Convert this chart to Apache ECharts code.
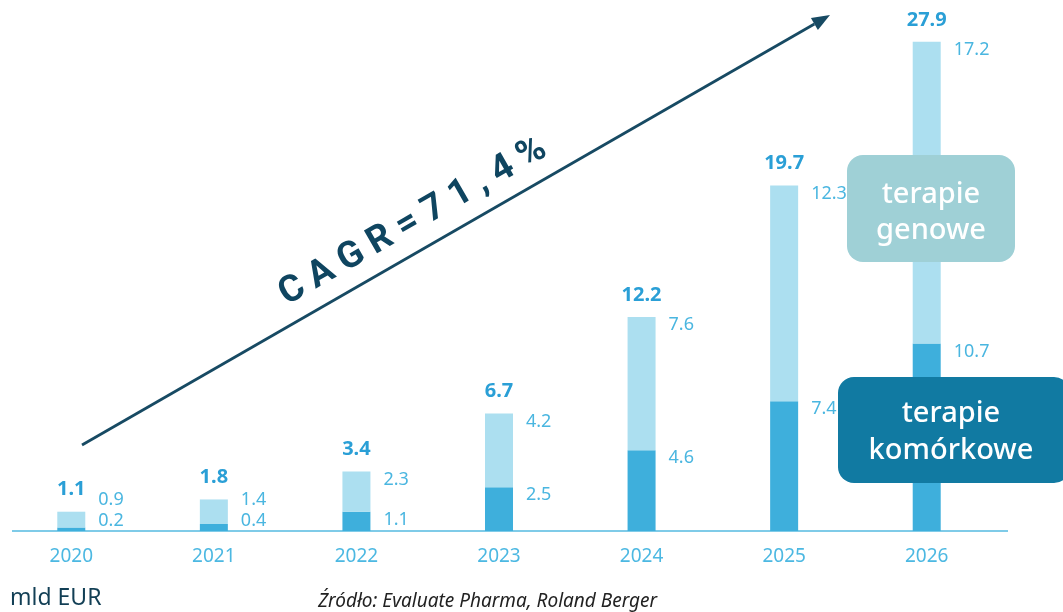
<!DOCTYPE html>
<html>
<head>
<meta charset="utf-8">
<script src="https://cdn.jsdelivr.net/npm/echarts@6/dist/echarts.min.js"></script>
<style>html,body{margin:0;padding:0;background:#fff;}#c{width:1063px;height:612px;}</style>
</head>
<body>
<div id="c"></div>
<script>
const years = ['2020','2021','2022','2023','2024','2025','2026'];
const cellTherapy = [0.2, 0.4, 1.1, 2.5, 4.6, 7.4, 10.7];
const geneTherapy = [0.9, 1.4, 2.3, 4.2, 7.6, 12.3, 17.2];
const totals = [1.1, 1.8, 3.4, 6.7, 12.2, 19.7, 27.9];

const GRID_BOTTOM = 81;
const chart = echarts.init(document.getElementById('c'), null, {renderer: 'canvas'});
const base = () => chart.getHeight() - GRID_BOTTOM;

function darkY(rect) { return Math.min(rect.y + 8, rect.y + rect.height - 10); }

const valueLabel = {show: true, color: '#4ab6e0', fontSize: 18, fontFamily: 'Noto Sans'};

// arrow geometry
const tail = [82, 445], tip = [830, 15];
const dx = tip[0] - tail[0], dy = tip[1] - tail[1];
const len = Math.hypot(dx, dy), ux = dx / len, uy = dy / len, nx = -uy, ny = ux;
const hb = [tip[0] - 18 * ux, tip[1] - 18 * uy];

chart.setOption({
  animation: false,
  grid: {left: -1, right: 65, top: 5, bottom: GRID_BOTTOM},
  xAxis: {
    type: 'category', data: years,
    axisLine: {show: false}, axisTick: {show: false},
    axisLabel: {color: '#4cb8e2', fontSize: 19, margin: 16, fontFamily: 'Noto Sans'}
  },
  yAxis: {type: 'value', min: 0, max: 30, show: false, splitLine: {show: false}},
  series: [
    {
      name: 'terapie komórkowe', type: 'bar', stack: 't', data: cellTherapy, barWidth: 28,
      itemStyle: {color: '#3eafdc'},
      label: Object.assign({}, valueLabel, {position: 'right', formatter: p => p.value.toFixed(1)}),
      labelLayout: p => ({x: p.rect.x + p.rect.width + 13, y: darkY(p.rect), align: 'left', verticalAlign: 'middle'})
    },
    {
      name: 'terapie genowe', type: 'bar', stack: 't', data: geneTherapy, barWidth: 28,
      itemStyle: {color: '#acdff0'},
      label: Object.assign({}, valueLabel, {position: 'right', formatter: p => p.value.toFixed(1)}),
      labelLayout: p => {
        const dTop = p.rect.y + p.rect.height;
        const dl = Math.min(dTop + 8, base() - 10);
        return {x: p.rect.x + p.rect.width + 13, y: Math.min(p.rect.y + 8, dl - 21), align: 'left', verticalAlign: 'middle'};
      }
    },
    {
      name: 'suma', type: 'bar', stack: 't', data: years.map(() => 0), barWidth: 28,
      itemStyle: {color: 'transparent'},
      label: {show: true, position: 'top', distance: 12, color: '#2a9fd6', fontSize: 20, fontWeight: 'bold',
        fontFamily: 'Noto Sans', formatter: p => totals[p.dataIndex].toFixed(1)}
    }
  ],
  graphic: [
    {type: 'line', shape: {x1: 12, y1: 531, x2: 1008, y2: 531}, style: {stroke: '#7fcbe8', lineWidth: 2}, z: 1},
    {type: 'line', shape: {x1: tail[0], y1: tail[1], x2: hb[0], y2: hb[1]}, style: {stroke: '#174a63', lineWidth: 2.8}},
    {type: 'polygon', shape: {points: [tip, [hb[0] + 7 * nx, hb[1] + 7 * ny], [hb[0] - 7 * nx, hb[1] - 7 * ny]]}, style: {fill: '#174a63'}},
    {type: 'text', x: 413, y: 222, rotation: Math.atan2(-dy, dx),
      style: {text: 'C A G R = 7 1 , 4 %', fill: '#0f4560', font: 'bold 37px Roboto', align: 'center', verticalAlign: 'middle'}},
    {type: 'rect', shape: {x: 847, y: 155, width: 168, height: 107, r: 16}, style: {fill: '#9fd0d6'}, z: 10},
    {type: 'text', x: 931, y: 213, z: 11,
      style: {text: 'terapie\ngenowe', fill: '#fff', font: '500 29px "Noto Sans"', align: 'center', verticalAlign: 'middle', lineHeight: 36}},
    {type: 'rect', shape: {x: 838, y: 377, width: 232, height: 106, r: 16}, style: {fill: '#117aa2'}, z: 10},
    {type: 'text', x: 951, y: 432, z: 11,
      style: {text: 'terapie\nkomórkowe', fill: '#fff', font: '500 29px "Noto Sans"', align: 'center', verticalAlign: 'middle', lineHeight: 37}},
    {type: 'text', x: 10, y: 598,
      style: {text: 'mld EUR', fill: '#123f55', font: '23px "Noto Sans"', align: 'left', verticalAlign: 'middle'}},
    {type: 'text', x: 318, y: 602,
      style: {text: 'Źródło: Evaluate Pharma, Roland Berger', fill: '#222', font: 'italic 19px "Noto Sans"', align: 'left', verticalAlign: 'middle'}}
  ]
});
</script>
</body>
</html>
